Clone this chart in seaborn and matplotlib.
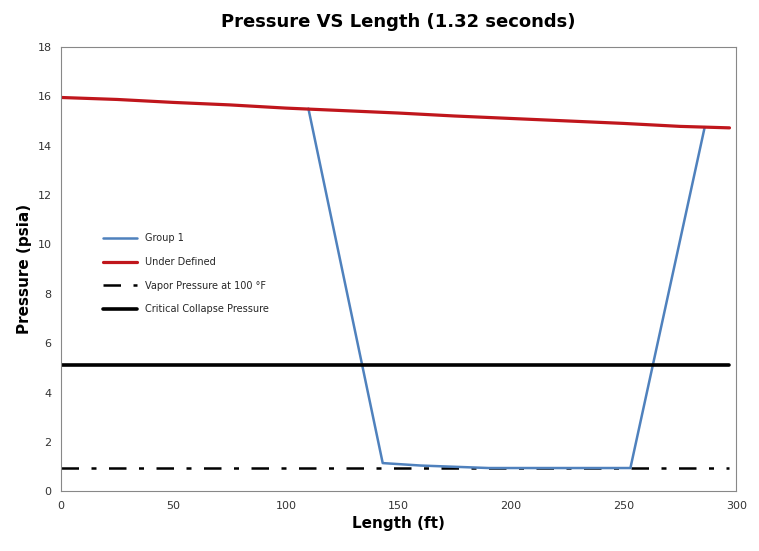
import numpy as np
import matplotlib.pyplot as plt
import pandas as pd
import seaborn as sns

# data
red_x = [0, 25, 50, 75, 100, 125, 150, 175, 200, 225, 250, 275, 297]
red_y = [15.95, 15.87, 15.75, 15.65, 15.52, 15.42, 15.32, 15.2, 15.1, 15.0, 14.9, 14.78, 14.72]
blue_x = [110, 143, 160, 190, 220, 253, 286]
blue_y = [15.5, 1.15, 1.05, 0.95, 0.95, 0.95, 14.75]
vapor_x = [0, 297]
vapor_y = [0.95, 0.95]
crit_x = [0, 297]
crit_y = [5.12, 5.12]

sns.set_style("white")
fig, ax = plt.subplots(figsize=(7.59, 5.51), dpi=100)
fig.subplots_adjust(left=0.08, right=0.97, top=0.915, bottom=0.108)

sns.lineplot(x=vapor_x, y=vapor_y, color='black', lw=1.8, label='Vapor Pressure at 100 °F', ax=ax,
             dashes=False, linestyle=(0, (7, 5, 2, 5)))
sns.lineplot(x=blue_x, y=blue_y, color='#4f81bd', lw=1.8, label='Group 1', ax=ax)
sns.lineplot(x=red_x, y=red_y, color='#c0161c', lw=2.3, label='Under Defined', ax=ax)
sns.lineplot(x=crit_x, y=crit_y, color='black', lw=2.6, label='Critical Collapse Pressure', ax=ax)

ax.set_xlim(0, 300)
ax.set_ylim(0, 18)
ax.set_xticks(range(0, 301, 50))
ax.set_yticks(range(0, 19, 2))
ax.tick_params(labelsize=8, length=3, direction='out', colors='#333333')
for s in ax.spines.values():
    s.set_color('#888888')
    s.set_linewidth(0.8)
ax.set_title('Pressure VS Length (1.32 seconds)', fontsize=13, fontweight='bold', pad=14, color='black')
ax.set_xlabel('Length (ft)', fontsize=11, fontweight='bold', color='black')
ax.set_ylabel('Pressure (psia)', fontsize=11, fontweight='bold', color='black')
h, l = ax.get_legend_handles_labels()
order = [1, 2, 0, 3]
ax.legend([h[i] for i in order], [l[i] for i in order], loc='upper left', bbox_to_anchor=(0.05, 0.6),
          frameon=False, fontsize=7, handlelength=3.5, labelspacing=1.4)

plt.savefig('out.png')
